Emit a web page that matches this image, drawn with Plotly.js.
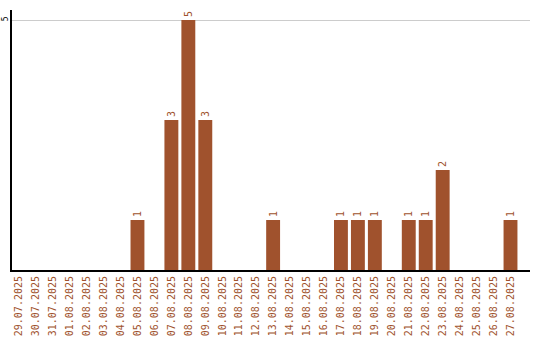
<!DOCTYPE html>
<html><head><meta charset="utf-8">
<script src="https://cdn.plot.ly/plotly-3.0.1.min.js"></script>
<style>body{margin:0;}#c{width:540px;height:340px;}</style>
</head><body><div id="c"></div>
<script>
const dates = ["29.07.2025","30.07.2025","31.07.2025","01.08.2025","02.08.2025","03.08.2025","04.08.2025","05.08.2025","06.08.2025","07.08.2025","08.08.2025","09.08.2025","10.08.2025","11.08.2025","12.08.2025","13.08.2025","14.08.2025","15.08.2025","16.08.2025","17.08.2025","18.08.2025","19.08.2025","20.08.2025","21.08.2025","22.08.2025","23.08.2025","24.08.2025","25.08.2025","26.08.2025","27.08.2025"];
const counts = [0,0,0,0,0,0,0,1,0,3,5,3,0,0,0,1,0,0,0,1,1,1,0,1,1,2,0,0,0,1];
const labels = counts.map(v => v > 0 ? String(v) : "");
const col = "#a0522d";
Plotly.newPlot("c", [{
  type: "bar", x: dates, y: counts, text: labels, textposition: "outside",
  textangle: -90, cliponaxis: false,
  textfont: {family: "DejaVu Sans Mono", size: 10, color: col},
  marker: {color: col}, width: 0.82, hoverinfo: "none"
}], {
  width: 540, height: 340,
  margin: {l: 12, r: 10, t: 10, b: 70},
  paper_bgcolor: "#fff", plot_bgcolor: "#fff",
  showlegend: false,
  xaxis: {type: "category", range: [-0.4, 30.15], tickangle: -90,
    tickfont: {family: "DejaVu Sans Mono", size: 10, color: col},
    showline: true, linecolor: "#000", linewidth: 2, ticks: "", showgrid: false, fixedrange: true},
  yaxis: {range: [0, 5.2], tickvals: [5], ticktext: ["5"], tickangle: -90,
    tickfont: {family: "DejaVu Sans Mono", size: 8, color: "#000"},
    ticklabelstandoff: -1, automargin: false,
    showline: true, linecolor: "#000", linewidth: 2, gridcolor: "#cccccc", zeroline: false, ticks: "", fixedrange: true}
}, {staticPlot: true});
</script></body></html>
